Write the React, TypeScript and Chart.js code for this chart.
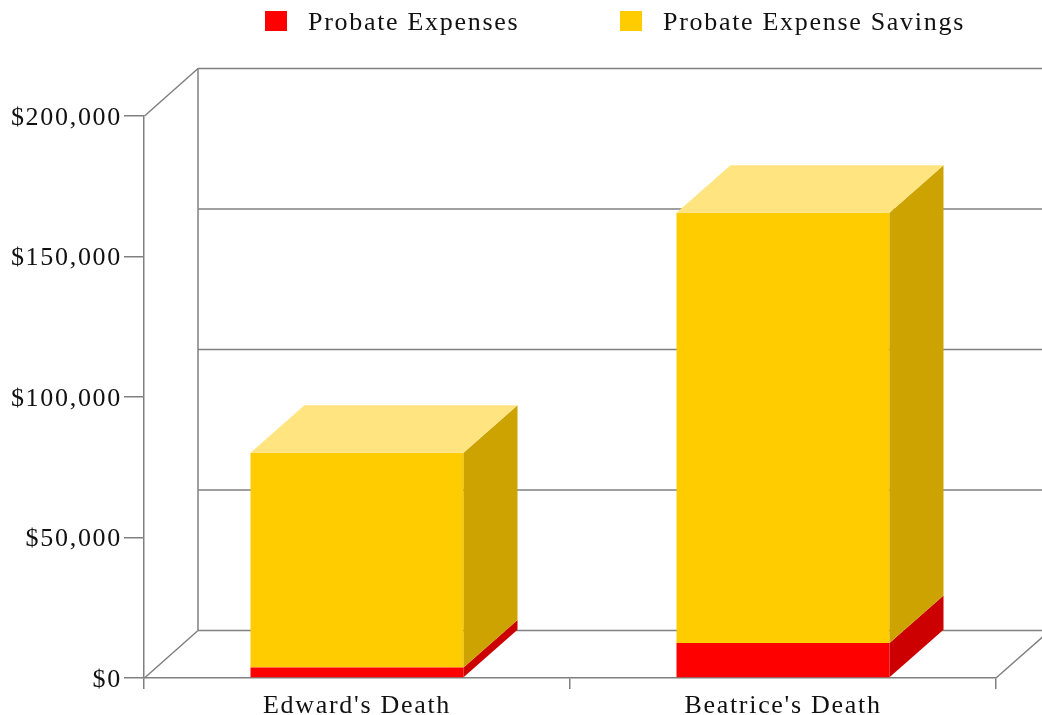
import React, { useEffect, useRef } from "react";
import { Chart, registerables } from "chart.js";

Chart.register(...registerables);

const categories = ["Edward's Death", "Beatrice's Death"];
const probateExpenses = [3700, 12500];
const probateExpenseSavings = [76500, 153100];
const yMax = 200000;
const yStep = 50000;

const FONT = '"Liberation Serif", serif';
const SPACING = "1.7px";
const LINE = "#808080";
const DX = 54;
const DY = 48;
const BAR_DY = 47.5;

const faces = ["#ff0000", "#ffcc00"];
const sides = ["#cc0000", "#cca300"];
const tops = ["#ff8080", "#ffe47f"];

const legendLayout = [
  { boxX: 265, textX: 308 },
  { boxX: 620, textX: 663 },
];

const box3d = {
  id: "box3d",
  beforeLayout(chart: any) {
    chart.ctx.letterSpacing = SPACING;
  },
  beforeDraw(chart: any) {
    const ctx = chart.ctx;
    ctx.letterSpacing = SPACING;
    chart.scales.y.getLabelItems().forEach((it: any) => {
      it.textOffset = 2;
    });
    ctx.save();
    ctx.font = `26px ${FONT}`;
    ctx.textAlign = "left";
    ctx.textBaseline = "middle";
    chart.data.datasets.forEach((ds: any, i: number) => {
      const l = legendLayout[i];
      ctx.fillStyle = ds.backgroundColor;
      ctx.fillRect(l.boxX, 11, 22, 20);
      ctx.fillStyle = "#111";
      ctx.fillText(ds.label, l.textX, 23);
    });
    ctx.restore();
  },
  beforeDatasetsDraw(chart: any) {
    const ctx = chart.ctx;
    const { left, right, bottom, top } = chart.chartArea;
    ctx.save();
    ctx.strokeStyle = LINE;
    ctx.lineWidth = 1.5;
    const seg = (x1: number, y1: number, x2: number, y2: number) => {
      ctx.beginPath();
      ctx.moveTo(x1, y1);
      ctx.lineTo(x2, y2);
      ctx.stroke();
    };
    seg(left + 0.5, top, left + DX, top - DY + 0.5);
    seg(left + 0.5, bottom, left + DX, bottom - DY + 0.5);
    seg(right, bottom, right + DX, bottom - DY + 0.5);
    seg(left + DX, top - DY, left + DX, bottom - DY);
    chart.scales.y.ticks.forEach((t: any) => {
      const py = chart.scales.y.getPixelForValue(t.value);
      seg(left + DX, py - DY + 0.5, right + DX, py - DY + 0.5);
    });
    ctx.restore();
  },
  afterDatasetsDraw(chart: any) {
    const ctx = chart.ctx;
    const last = chart.data.datasets.length - 1;
    const poly = (pts: number[][], color: string) => {
      ctx.fillStyle = color;
      ctx.beginPath();
      pts.forEach((p, i) => (i ? ctx.lineTo(p[0], p[1]) : ctx.moveTo(p[0], p[1])));
      ctx.closePath();
      ctx.fill();
    };
    ctx.save();
    chart.data.datasets.forEach((_: any, d: number) => {
      chart.getDatasetMeta(d).data.forEach((bar: any) => {
        const l = bar.x - bar.width / 2;
        const r = bar.x + bar.width / 2;
        poly(
          [
            [r, bar.y],
            [r + DX, bar.y - BAR_DY],
            [r + DX, bar.base - BAR_DY],
            [r, bar.base],
          ],
          sides[d]
        );
        if (d === last) {
          poly(
            [
              [l, bar.y],
              [l + DX, bar.y - BAR_DY],
              [r + DX, bar.y - BAR_DY],
              [r, bar.y],
            ],
            tops[d]
          );
        }
      });
    });
    ctx.restore();
  },
};

export default function App() {
  const ref = useRef<HTMLCanvasElement>(null);
  useEffect(() => {
    const chart = new Chart(ref.current as HTMLCanvasElement, {
      type: "bar",
      data: {
        labels: categories,
        datasets: [
          { label: "Probate Expenses", data: probateExpenses, backgroundColor: faces[0], borderWidth: 0 },
          { label: "Probate Expense Savings", data: probateExpenseSavings, backgroundColor: faces[1], borderWidth: 0 },
        ],
      },
      options: {
        responsive: false,
        animation: false,
        categoryPercentage: 1,
        barPercentage: 0.5,
        layout: { padding: { top: 116, right: 46, left: 0, bottom: 0 } },
        plugins: { legend: { display: false }, tooltip: { enabled: false }, title: { display: false } },
        scales: {
          x: {
            stacked: true,
            afterFit: (s: any) => {
              s.height = 37;
            },
            grid: {
              offset: true,
              drawOnChartArea: false,
              tickLength: 11,
              color: LINE,
              lineWidth: 1.5,
            },
            border: { color: LINE, width: 1.5 },
            ticks: { color: "#111", font: { family: FONT, size: 26 }, padding: 2, maxRotation: 0 },
          },
          y: {
            stacked: true,
            min: 0,
            max: yMax,
            afterFit: (s: any) => {
              s.width = 144;
            },
            grid: { drawOnChartArea: false, tickLength: 20, color: LINE, lineWidth: 1.5 },
            border: { color: LINE, width: 1.5 },
            ticks: {
              stepSize: yStep,
              color: "#111",
              font: { family: FONT, size: 26 },
              padding: 2,
              callback: (v: any) => "$" + Number(v).toLocaleString("en-US"),
            },
          },
        },
      } as any,
      plugins: [box3d],
    });
    return () => chart.destroy();
  }, []);
  return (
    <div style={{ position: "fixed", left: 0, top: 0 }}>
      <canvas ref={ref} width={1042} height={715} style={{ display: "block" }} />
    </div>
  );
}
